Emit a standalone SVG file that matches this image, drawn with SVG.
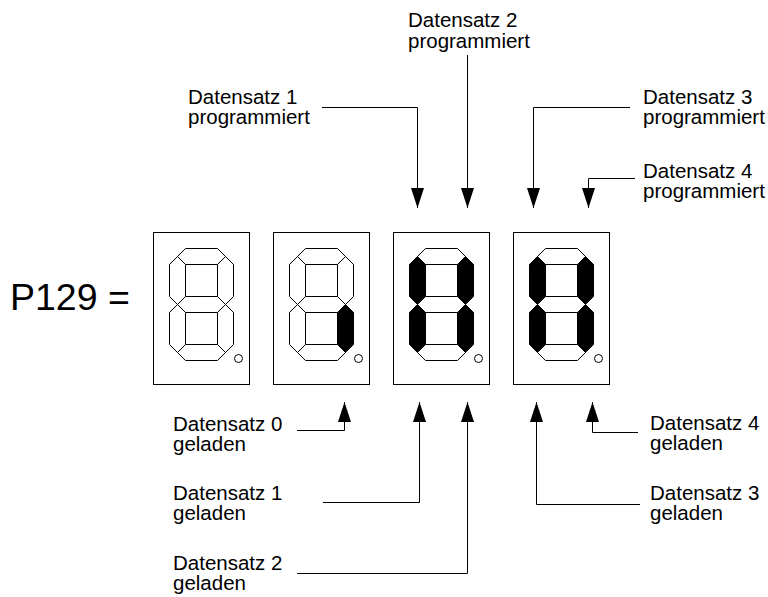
<svg xmlns="http://www.w3.org/2000/svg" xmlns:xlink="http://www.w3.org/1999/xlink" width="768" height="597" viewBox="0 0 768 597">
<style>
text{font-family:"Liberation Sans",Arial,sans-serif;font-size:20.5px;fill:#000}
.big{font-size:37.5px}
.box{fill:#fff;stroke:#000;stroke-width:1}
.seg{fill:#fff;stroke:#000;stroke-width:1;stroke-linejoin:miter}
.on{fill:#000}
.dp{fill:none;stroke:#000;stroke-width:1}
.conn{fill:none;stroke:#000;stroke-width:1}
</style>
<defs>
<marker id="ah" viewBox="0 0 20 13" refX="20" refY="6.5" markerWidth="20" markerHeight="13" markerUnits="userSpaceOnUse" orient="auto">
<path d="M0,0 L20,6.5 L0,13 Z" fill="#000"/>
</marker>
<path id="sT" d="M24,256 L32,248 L64,248 L72,256 L64,264 L32,264 Z"/>
<path id="sUL" d="M24,256 L32,264 L32,296 L24,304 L16,296 L16,264 Z"/>
<path id="sUR" d="M72,256 L80,264 L80,296 L72,304 L64,296 L64,264 Z"/>
<path id="sM" d="M24,304 L32,296 L64,296 L72,304 L64,312 L32,312 Z"/>
<path id="sLL" d="M24,304 L32,312 L32,344 L24,352 L16,344 L16,312 Z"/>
<path id="sLR" d="M72,304 L80,312 L80,344 L72,352 L64,344 L64,312 Z"/>
<path id="sB" d="M24,352 L32,344 L64,344 L72,352 L64,360 L32,360 Z"/>
</defs>
<rect width="768" height="597" fill="#fff"/>

<g id="label-p129"><text class="big" x="10" y="310">P129 =</text></g>

<g id="digit1" transform="translate(153.5,0.5)">
<rect class="box" x="0" y="232" width="96" height="152"/>
<use href="#sT" class="seg"/><use href="#sUL" class="seg"/><use href="#sUR" class="seg"/><use href="#sM" class="seg"/><use href="#sLL" class="seg"/><use href="#sLR" class="seg"/><use href="#sB" class="seg"/>
<circle class="dp" cx="85" cy="358" r="4"/>
</g>
<g id="digit2" transform="translate(273.5,0.5)">
<rect class="box" x="0" y="232" width="96" height="152"/>
<use href="#sT" class="seg"/><use href="#sUL" class="seg"/><use href="#sUR" class="seg"/><use href="#sM" class="seg"/><use href="#sLL" class="seg"/><use href="#sLR" class="seg on"/><use href="#sB" class="seg"/>
<circle class="dp" cx="85" cy="358" r="4"/>
</g>
<g id="digit3" transform="translate(393.5,0.5)">
<rect class="box" x="0" y="232" width="96" height="152"/>
<use href="#sT" class="seg"/><use href="#sUL" class="seg on"/><use href="#sUR" class="seg on"/><use href="#sM" class="seg"/><use href="#sLL" class="seg on"/><use href="#sLR" class="seg on"/><use href="#sB" class="seg"/>
<circle class="dp" cx="85" cy="358" r="4"/>
</g>
<g id="digit4" transform="translate(513.5,0.5)">
<rect class="box" x="0" y="232" width="96" height="152"/>
<use href="#sT" class="seg"/><use href="#sUL" class="seg on"/><use href="#sUR" class="seg on"/><use href="#sM" class="seg"/><use href="#sLL" class="seg on"/><use href="#sLR" class="seg on"/><use href="#sB" class="seg"/>
<circle class="dp" cx="85" cy="358" r="4"/>
</g>

<g id="connectors">
<path class="conn" d="M322,107.5 H417.5 V208" marker-end="url(#ah)"/>
<path class="conn" d="M467.5,55 V208" marker-end="url(#ah)"/>
<path class="conn" d="M630,107.5 H533.5 V208" marker-end="url(#ah)"/>
<path class="conn" d="M635,178.5 H588.5 V208" marker-end="url(#ah)"/>
<path class="conn" d="M297,430.5 H344.5 V402" marker-end="url(#ah)"/>
<path class="conn" d="M323,502.5 H419.5 V402" marker-end="url(#ah)"/>
<path class="conn" d="M297,573.5 H467.5 V402" marker-end="url(#ah)"/>
<path class="conn" d="M640,504.5 H536.5 V402" marker-end="url(#ah)"/>
<path class="conn" d="M638,432.5 H592.5 V402" marker-end="url(#ah)"/>
</g>

<g id="label-ds1p"><text x="188" y="104">Datensatz 1</text><text x="188" y="124">programmiert</text></g>
<g id="label-ds2p"><text x="408" y="27">Datensatz 2</text><text x="408" y="48">programmiert</text></g>
<g id="label-ds3p"><text x="643" y="104">Datensatz 3</text><text x="643" y="124">programmiert</text></g>
<g id="label-ds4p"><text x="643" y="178">Datensatz 4</text><text x="643" y="198">programmiert</text></g>
<g id="label-ds0g"><text x="173" y="431">Datensatz 0</text><text x="173" y="451">geladen</text></g>
<g id="label-ds1g"><text x="173" y="500">Datensatz 1</text><text x="173" y="520">geladen</text></g>
<g id="label-ds2g"><text x="173" y="570">Datensatz 2</text><text x="173" y="590">geladen</text></g>
<g id="label-ds3g"><text x="650" y="500">Datensatz 3</text><text x="650" y="520">geladen</text></g>
<g id="label-ds4g"><text x="650" y="430">Datensatz 4</text><text x="650" y="450">geladen</text></g>
</svg>
